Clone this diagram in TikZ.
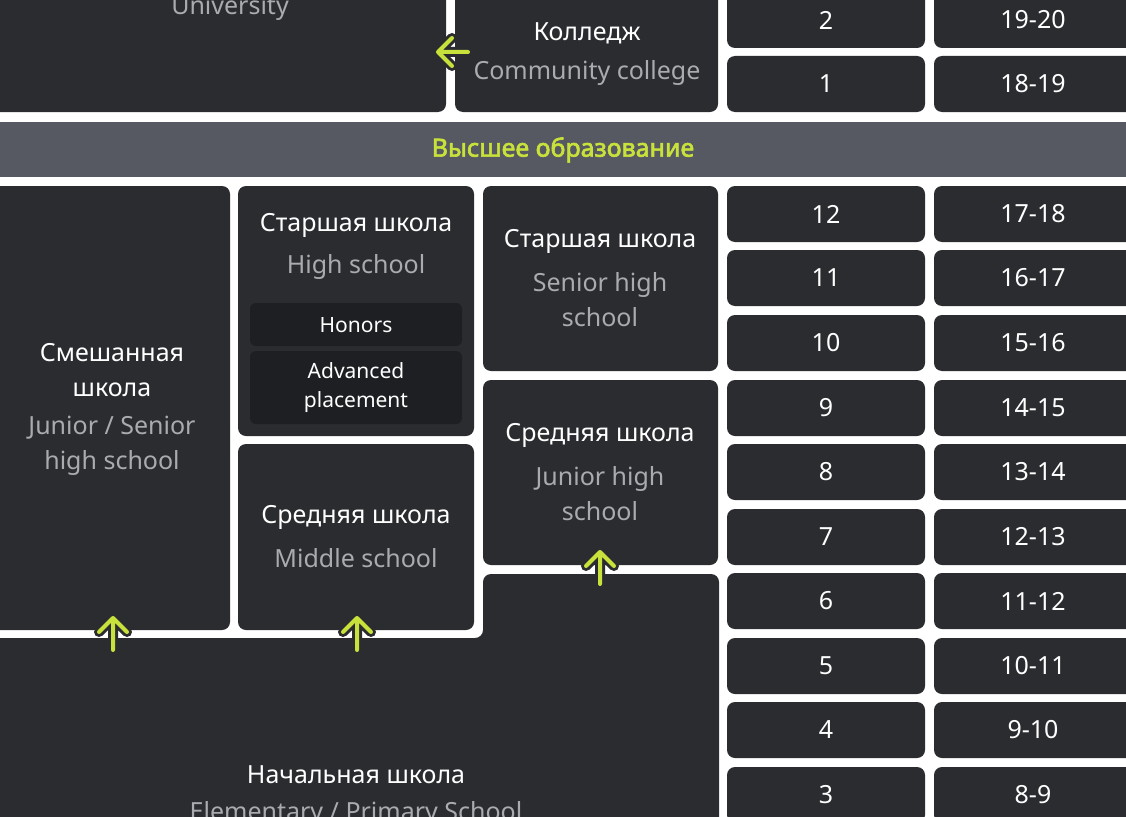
\documentclass[tikz,border=0pt]{standalone}
\usepackage{fontspec}
\setmainfont{Noto Sans}[AutoFakeBold=2.5]
\definecolor{box}{HTML}{2B2C2F}
\definecolor{inner}{HTML}{1E1F22}
\definecolor{band}{HTML}{565961}
\definecolor{lime}{HTML}{C9E23B}
\definecolor{sub}{HTML}{A9ABB0}
\tikzset{
  blk/.style={fill=box, rounded corners=8pt},
  inblk/.style={fill=inner, rounded corners=6pt},
  wt/.style={text=white, font=\fontsize{25}{29}\selectfont, inner sep=0pt},
  gt/.style={text=sub, font=\fontsize{25}{29}\selectfont, inner sep=0pt},
  st/.style={text=white, font=\fontsize{21}{25}\selectfont, inner sep=0pt},
  arrowout/.style={draw=box, line width=10pt, line cap=round, line join=round},
  arrowin/.style={draw=lime, line width=4pt, line cap=round, line join=round},
}
\newcommand{\uparr}[2]{%
  \draw[arrowout] (#1,#2+16) -- (#1,#2-16) (#1-14,#2-2) -- (#1,#2-16) -- (#1+14,#2-2);
  \draw[arrowin] (#1,#2+16) -- (#1,#2-16) (#1-14,#2-2) -- (#1,#2-16) -- (#1+14,#2-2);}
\begin{document}
\begin{tikzpicture}[x=1pt,y=-1pt]
\useasboundingbox (0,0) rectangle (1126,816);
\clip (0,0) rectangle (1126,816);
\fill[white] (0,0) rectangle (1126,816);
% top
\fill[blk] (-20,-20) rectangle (446,112);
\node[gt] (uni) at (230,8) {University};
\fill[blk] (455,-20) rectangle (718,112);
\node[wt] (col) at (587,33) {Колледж};
\node[gt] (colE) at (587,73) {Community college};
% left arrow
\draw[arrowout] (468,52) -- (438,52) (452,38) -- (438,52) -- (452,66);
\draw[arrowin] (468,52) -- (438,52) (452,38) -- (438,52) -- (452,66);
% band
\fill[band] (0,122) rectangle (1126,177);
\node[text=lime, font=\fontsize{25}{29}\selectfont\bfseries, inner sep=0pt] (band) at (563,150) {Высшее образование};
% grade columns
\foreach \g/\a/\y in {2/19-20/20, 1/18-19/84, 12/17-18/214, 11/16-17/278, 10/15-16/343, 9/14-15/408, 8/13-14/472, 7/12-13/537, 6/11-12/601, 5/10-11/666, 4/9-10/730, 3/8-9/795}{
  \fill[blk] (727,\y-28) rectangle (925,\y+28);
  \fill[blk] (934,\y-28) rectangle (1150,\y+28);
  \node[wt] (g\g) at (826,\y) {\g};
  \node[wt] (a\g) at (1033,\y) {\a};
}
% mixed
\fill[blk] (-20,186) rectangle (230,630);
\node[wt, align=center] (mix) at (112,370) {Смешанная\\[6pt]школа};
\node[gt, align=center] (mixE) at (112,446) {Junior / Senior\\[6pt]high school};
% high school
\fill[blk] (238,186) rectangle (474,436);
\node[wt] (hs) at (356,225) {Старшая школа};
\node[gt] (hsE) at (356,267) {High school};
\fill[inblk] (250,303) rectangle (462,346);
\node[st] (hon) at (356,325) {Honors};
\fill[inblk] (250,351) rectangle (462,424);
\node[st, align=center] (ap) at (356,388) {Advanced\\[4pt]placement};
% middle school
\fill[blk] (238,444) rectangle (474,630);
\node[wt] (ms) at (356,517) {Средняя школа};
\node[gt] (msE) at (356,558) {Middle school};
% senior high
\fill[blk] (483,186) rectangle (718,371);
\node[wt] (sh) at (600,241) {Старшая школа};
\node[gt, align=center] (shE) at (600,300) {Senior high\\[6pt]school};
% junior high
\fill[blk] (483,380) rectangle (718,565);
\node[wt] (jh) at (600,435) {Средняя школа};
\node[gt, align=center] (jhE) at (600,494) {Junior high\\[6pt]school};
% elementary
\fill[blk] (-20,638) -- (483,638) -- (483,574) -- (719,574) -- (719,840) -- (-20,840) -- cycle;
\node[wt] (el) at (356,775) {Начальная школа};
\node[gt] (elE) at (356,814) {Elementary / Primary School};
% up arrows
\uparr{113}{634}
\uparr{357}{634}
\uparr{600}{568}
\end{tikzpicture}
\end{document}
